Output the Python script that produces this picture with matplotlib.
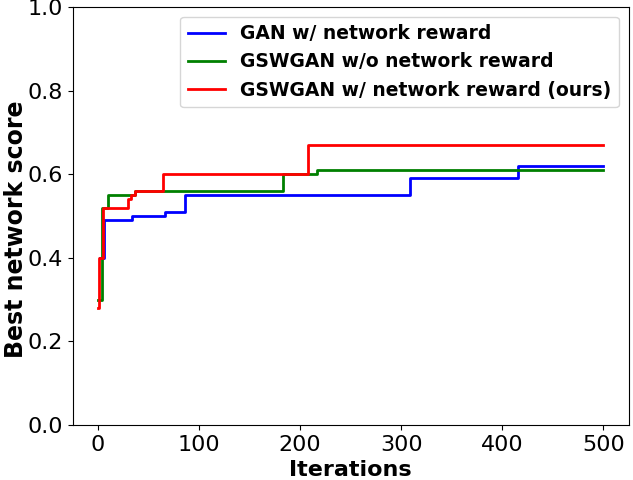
import matplotlib
matplotlib.use('Agg')
import matplotlib.pyplot as plt

# iteration where the best score changes, and the new best score
gan_iters = [2, 6, 34, 66, 86, 309, 416, 500]
gan_scores = [0.40, 0.49, 0.50, 0.51, 0.55, 0.59, 0.62, 0.62]

gsw_noreward_iters = [0, 3, 4, 10, 37, 183, 217, 500]
gsw_noreward_scores = [0.30, 0.30, 0.52, 0.55, 0.56, 0.60, 0.61, 0.61]

gsw_reward_iters = [0, 1, 5, 30, 33, 37, 64, 208, 500]
gsw_reward_scores = [0.28, 0.40, 0.52, 0.54, 0.55, 0.56, 0.60, 0.67, 0.67]

labels = ['GAN w/ network reward',
          'GSWGAN w/o network reward',
          'GSWGAN w/ network reward (ours)']

fig, ax = plt.subplots(figsize=(6.33, 4.8), dpi=100)
fig.subplots_adjust(left=0.115, right=0.993, top=0.985, bottom=0.115)

ax.plot(gan_iters, gan_scores, color='blue', lw=2, drawstyle='steps-post', label=labels[0])
ax.plot(gsw_noreward_iters, gsw_noreward_scores, color='green', lw=2, drawstyle='steps-post', label=labels[1])
ax.plot(gsw_reward_iters, gsw_reward_scores, color='red', lw=2, drawstyle='steps-post', label=labels[2])

ax.set_xlim(-25, 525)
ax.set_ylim(0, 1.0)
ax.set_yticks([0.0, 0.2, 0.4, 0.6, 0.8, 1.0])
ax.tick_params(labelsize=16)
ax.set_xlabel('Iterations', fontsize=16, fontweight='bold')
ax.set_ylabel('Best network score', fontsize=17, fontweight='bold', y=0.468, labelpad=0)
ax.legend(loc='upper right', prop={'weight': 'bold', 'size': 13.5})

fig.savefig('out.png', dpi=100)
